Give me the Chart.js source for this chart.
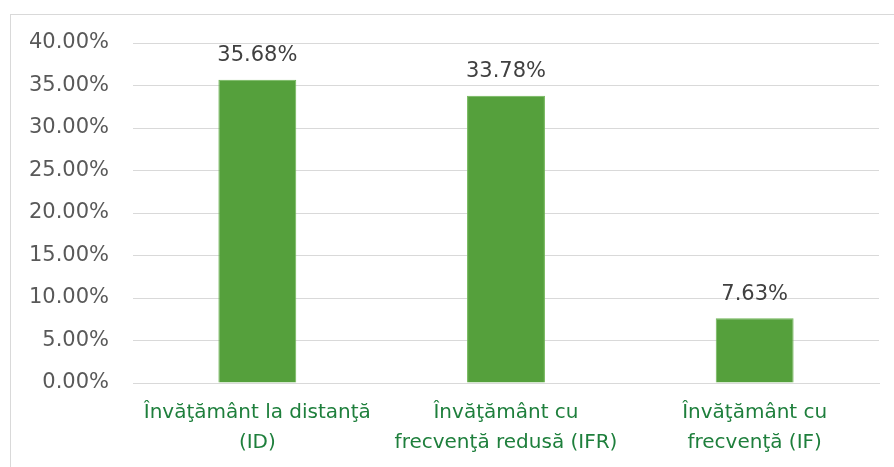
<!DOCTYPE html>
<html>
<head>
<meta charset="utf-8">
<script src="https://cdn.jsdelivr.net/npm/chart.js@4"></script>
<style>
html,body{margin:0;padding:0;background:#fff;}
#wrap{position:absolute;left:0;top:0;width:894px;height:467px;}
#frame{position:absolute;left:10px;top:14px;width:900px;height:470px;border:1px solid #D9D9D9;box-sizing:border-box;}
canvas{position:absolute;left:0;top:0;}
</style>
</head>
<body>
<div id="wrap">
<div id="frame"></div>
<canvas id="c" width="894" height="467"></canvas>
</div>
<script>
const categories = [["Învăţământ la distanţă","(ID)"],["Învăţământ cu","frecvenţă redusă (IFR)"],["Învăţământ cu","frecvenţă (IF)"]];
const values = [35.68, 33.78, 7.63];
const valueLabels = ["35.68%","33.78%","7.63%"];
const yTicks = [0,5,10,15,20,25,30,35,40];

const FONT = "'DejaVu Sans', sans-serif";

const labelPlugin = {
  id: 'valueLabels',
  afterDatasetsDraw(chart){
    const ctx = chart.ctx;
    const meta = chart.getDatasetMeta(0);
    ctx.save();
    ctx.font = "21px " + FONT;
    ctx.fillStyle = '#404040';
    ctx.textAlign = 'center';
    ctx.textBaseline = 'middle';
    meta.data.forEach((bar,i)=>{
      ctx.fillText(valueLabels[i], bar.x, bar.y - 24);
    });
    ctx.restore();
  }
};

new Chart(document.getElementById('c'), {
  type: 'bar',
  data: {
    labels: categories,
    datasets: [{
      data: values,
      backgroundColor: '#55A03C',
      borderColor: '#6FB556',
      borderWidth: 1,
      categoryPercentage: 1,
      barPercentage: 78/249
    }]
  },
  options: {
    responsive: false,
    animation: false,
    devicePixelRatio: 1,
    layout: { padding: { left: 0, right: 15, top: 43, bottom: 0 } },
    plugins: { legend: { display: false }, tooltip: { enabled: false } },
    scales: {
      y: {
        min: 0, max: 40,
        afterFit(s){ s.width = 133; },
        afterBuildTicks(s){ s.ticks = yTicks.map(v=>({value:v})); },
        grid: { color: '#D9D9D9', lineWidth: 1, drawTicks: false },
        border: { display: false },
        ticks: {
          padding: 24,
          color: '#595959',
          font: { family: FONT, size: 21 },
          callback: v => v.toFixed(2) + '%'
        }
      },
      x: {
        afterFit(s){ s.height = 84; },
        grid: { display: false, drawTicks: false },
        border: { display: true, color: '#D9D9D9' },
        ticks: {
          padding: 15,
          color: '#1E7F3C',
          maxRotation: 0,
          autoSkip: false,
          font: { family: FONT, size: 20, lineHeight: 1.5 }
        }
      }
    }
  },
  plugins: [labelPlugin]
});
</script>
</body>
</html>
